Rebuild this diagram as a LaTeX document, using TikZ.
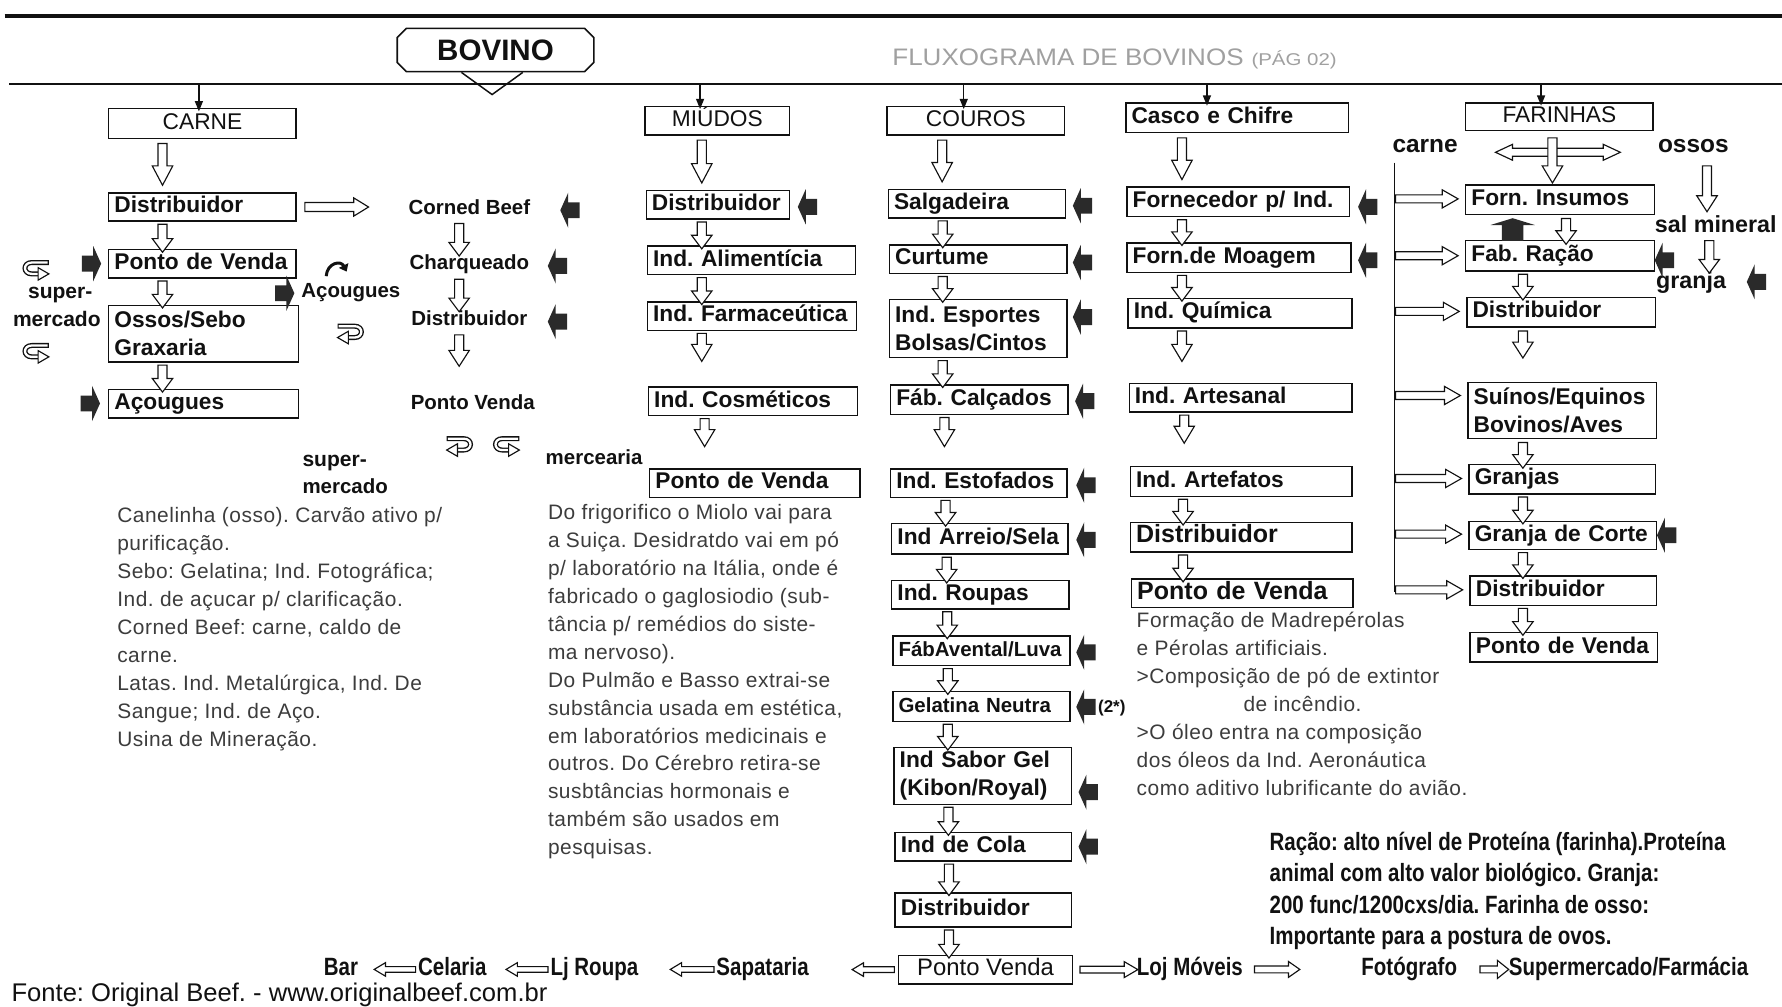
\documentclass[tikz,border=0pt]{standalone}
\usepackage{fontspec}
\setmainfont{Liberation Sans}
\newfontfamily\parafont[LetterSpace=2.5]{Liberation Sans}
\newfontfamily\narrowfont[FakeStretch=0.82]{Liberation Sans}
\usetikzlibrary{calc,shapes.misc,arrows.meta}
\definecolor{ink}{HTML}{111111}
\definecolor{txtgray}{HTML}{3C3C3C}
\definecolor{blk}{HTML}{2A2A2A}
\definecolor{headgray}{HTML}{A0A0A0}
\frenchspacing

\begin{document}
\begin{tikzpicture}[x=1pt, y=-1pt,
  bx/.style={draw=ink, line width=1.3pt, inner xsep=5pt, inner ysep=0pt, anchor=north west, align=left, text=ink, font=\bfseries\fontsize{20}{24.5}\selectfont},
  oneline/.style={text height=14.5pt, text depth=4.5pt},
  hdr/.style={draw=ink, line width=1.3pt, inner sep=0pt, anchor=north west, text=ink, font=\fontsize{20}{24}\selectfont, text height=14.5pt, text depth=4.5pt},
  lbl/.style={inner sep=0pt, text=ink, font=\bfseries\fontsize{18}{22}\selectfont, text height=13pt, text depth=4pt},
  para/.style={anchor=base west, inner sep=0pt, text=txtgray, font=\parafont\fontsize{18.4}{24}\selectfont},
  note/.style={anchor=base west, inner sep=0pt, text=ink, font=\narrowfont\bfseries\fontsize{22}{26}\selectfont},
  shop/.style={inner sep=0pt, text=ink, font=\narrowfont\bfseries\fontsize{22}{26}\selectfont, text height=15pt, text depth=4.5pt},
  hollow/.style={draw=ink, fill=white, line width=1pt, line join=miter},
  aw/.store in=\arW, aw=4pt,
  ah/.store in=\arH, ah=9pt,
  al/.store in=\arL, al=12pt,
  small/.style={aw=2.5pt, ah=6pt, al=10pt},
  arD/.style={to path={let \p1=(\tikztostart), \p2=(\tikztotarget) in
    (\x1-\arW,\y1) -- (\x1+\arW,\y1) -- (\x1+\arW,\y2+\arL) -- (\x1+\arH,\y2+\arL) -- (\x1,\y2)
    -- (\x1-\arH,\y2+\arL) -- (\x1-\arW,\y2+\arL) -- cycle}},
  arR/.style={to path={let \p1=(\tikztostart), \p2=(\tikztotarget) in
    (\x1,\y1+\arW) -- (\x2-\arL,\y1+\arW) -- (\x2-\arL,\y1+\arH) -- (\x2,\y1)
    -- (\x2-\arL,\y1-\arH) -- (\x2-\arL,\y1-\arW) -- (\x1,\y1-\arW) -- cycle}},
  arL/.style={to path={let \p1=(\tikztostart), \p2=(\tikztotarget) in
    (\x1,\y1+\arW) -- (\x2+\arL,\y1+\arW) -- (\x2+\arL,\y1+\arH) -- (\x2,\y1)
    -- (\x2+\arL,\y1-\arH) -- (\x2+\arL,\y1-\arW) -- (\x1,\y1-\arW) -- cycle}},
  arLR/.style={to path={let \p1=(\tikztostart), \p2=(\tikztotarget) in
    (\x1,\y1) -- (\x1+\arL,\y1+\arH) -- (\x1+\arL,\y1+\arW) -- (\x2-\arL,\y1+\arW) -- (\x2-\arL,\y1+\arH)
    -- (\x2,\y1) -- (\x2-\arL,\y1-\arH) -- (\x2-\arL,\y1-\arW) -- (\x1+\arL,\y1-\arW) -- (\x1+\arL,\y1-\arH) -- cycle}},
  thin/.style={draw=ink, line width=1.2pt, -{Triangle[length=9pt, width=7pt]}},
  blkL/.pic={\fill[blk] (0,0) -- (7,-15.5) -- (7,-7) -- (17,-7) -- (17,7) -- (7,7) -- (7,15.5) -- cycle;},
  blkU/.pic={\fill[blk] (0,0) -- (19.5,6) -- (9.5,6) -- (9.5,20) -- (-9.5,20) -- (-9.5,6) -- (-19.5,6) -- cycle;},
  uturn/.pic={
    \draw[ink, line width=4.4pt] (23,2) -- (8,2) .. controls (0,2) and (0,12) .. (8,12) -- (14,12);
    \draw[white, line width=2pt] (22,2) -- (8,2) .. controls (0,2) and (0,12) .. (8,12) -- (15,12);
    \draw[ink, fill=white, line width=1pt, line join=miter] (13.5,6.5) -- (23,12) -- (13.5,17.5) -- cycle;}
]
\useasboundingbox (0,0) rectangle (1568,886);
\fill[white] (0,0) rectangle (1568,886);

% ---------- header ----------
\draw[ink, line width=3pt] (4,14) -- (1568,14);
\draw[ink, line width=1.5pt] (8,74) -- (1568,74);
\node[draw=ink, line width=1.4pt, chamfered rectangle, chamfered rectangle xsep=4pt, chamfered rectangle ysep=4pt,
      minimum width=173pt, minimum height=38pt, inner sep=0pt, text=ink,
      font=\bfseries\fontsize{26}{26}\selectfont] (bovino) at (436,44) {BOVINO};
\draw[ink, line width=1.3pt, line join=miter] ([xshift=-30pt]bovino.south) -- ++(27,19.5) -- ++(27,-19.5);
\node[anchor=base west, inner sep=0pt, text=headgray, font=\fontsize{21}{21}\selectfont] (fluxo) at (785,58)
  {\scalebox{1.09}[1]{FLUXOGRAMA DE BOVINOS}};
\node[anchor=base west, inner sep=0pt, text=headgray, font=\fontsize{15}{15}\selectfont] (pag) at (1101,58)
  {\scalebox{1.2}[1]{(PÁG 02)}};

\coordinate (hc1) at (175,75);
\coordinate (hc2) at (616,75);
\coordinate (hc3) at (848,75);
\coordinate (hc4) at (1062,75);
\coordinate (hc5) at (1356,75);

% ---------- CARNE ----------
\node[hdr, minimum width=165pt, minimum height=26pt] (carne) at (95,95) {CARNE};
\node[bx, oneline, text width=155pt, minimum height=25pt] (cdist) at (95,169) {Distribuidor};
\node[bx, oneline, text width=155pt, minimum height=25pt] (cpv) at (95,219) {Ponto de Venda};
\node[bx, text width=157pt, minimum height=50pt] (cossos) at (95,268) {Ossos/Sebo\\Graxaria};
\node[bx, oneline, text width=157pt, minimum height=25pt] (cacoug) at (95,342) {Açougues};

\draw[thin] (hc1) -- ($(hc1 |- carne.north)+(0,3)$);
\draw[hollow, al=17pt] ([xshift=48pt,yshift=-4pt]carne.south west) to[arD] ([yshift=6pt]cdist.north);
\draw[hollow] ([xshift=48pt,yshift=-2pt]cdist.south west) to[arD] ([yshift=-3pt]cpv.north);
\draw[hollow] ([xshift=48pt,yshift=-2pt]cpv.south west) to[arD] ([yshift=-3pt]cossos.north);
\draw[hollow] ([xshift=48pt,yshift=-2pt]cossos.south west) to[arD] ([yshift=-3pt]cacoug.north);
\draw[hollow, aw=4pt, ah=8pt, al=13pt] ([xshift=7pt]cdist.east) to[arR] ([xshift=63pt]cdist.east);

\node[lbl, font=\bfseries\fontsize{18.5}{22}\selectfont] (sup1) at (53,258) {super-};
\node[lbl, font=\bfseries\fontsize{18.5}{22}\selectfont] (mer1) at (50,283) {mercado};
\node[lbl, anchor=west] (acl) at (265,257) {Açougues};
\pic at (20,229) {uturn};
\pic at (20,302) {uturn};
\pic[xscale=-1] at (320,285) {uturn};
\draw[ink, line width=2.6pt, -{Triangle[length=6pt, width=9pt]}] (287,243) .. controls (288,231) and (300,229) .. (305,239);
\pic[xscale=-1] at (89,232) {blkL};
\pic[xscale=-1] at (259,258) {blkL};
\pic[xscale=-1] at (88,355) {blkL};

% Corned beef chain
\node[lbl] (corned) at (413,184) {Corned Beef};
\node[lbl] (charq) at (413,233) {Charqueado};
\node[lbl] (cbdist) at (413,282) {Distribuidor};
\node[lbl] (cbpv) at (416,356) {Ponto Venda};
\draw[hollow] ([xshift=-9pt,yshift=-4pt]corned.south) to[arD] ([yshift=-1pt]charq.north);
\draw[hollow] ([xshift=-9pt,yshift=-4pt]charq.south) to[arD] ([yshift=-1pt]cbdist.north);
\draw[hollow, al=14pt] ([xshift=-9pt,yshift=-4pt]cbdist.south) to[arD] ([yshift=25pt]cbpv.north);
\pic at (493,185) {blkL};
\pic at (482,234) {blkL};
\pic at (482,283) {blkL};

\pic[xscale=-1] at (416,384) {uturn};
\pic at (434,384) {uturn};
\node[lbl, anchor=west, font=\bfseries\fontsize{18.5}{22}\selectfont] (sup2) at (266,406) {super-};
\node[lbl, anchor=west] (mer2) at (266,430) {mercado};
\node[lbl, anchor=west] (merc) at (480,404) {mercearia};

\foreach \t [count=\i] in {
  {Canelinha (osso). Carvão ativo p/},
  {purificação.},
  {Sebo: Gelatina; Ind. Fotográfica;},
  {Ind. de açucar p/ clarificação.},
  {Corned Beef: carne, caldo de},
  {carne.},
  {Latas. Ind. Metalúrgica, Ind. De},
  {Sangue; Ind. de Aço.},
  {Usina de Mineração.}}
  \node[para] (pa\i) at (103,{460+24.6*(\i-1)}) {\t};

% ---------- MIUDOS ----------
\node[hdr, minimum width=127pt, minimum height=25pt] (miudos) at (567,93) {MIÚDOS};
\node[bx, oneline, text width=116pt, minimum height=25pt] (mdist) at (568,167) {Distribuidor};
\node[bx, oneline, text width=173pt, minimum height=25pt] (malim) at (569,216) {Ind. Alimentícia};
\node[bx, oneline, text width=174pt, minimum height=25pt] (mfarm) at (569,265) {\mbox{Ind. Farmaceútica}};
\node[bx, oneline, text width=174pt, minimum height=25pt] (mcosm) at (570,340) {Ind. Cosméticos};
\node[bx, oneline, text width=175pt, minimum height=25pt] (mpv) at (571,412) {Ponto de Venda};
\draw[thin] (hc2) -- ($(hc2 |- miudos.north)+(0,3)$);
\draw[hollow, al=17pt] ([xshift=50.5pt,yshift=-4pt]miudos.south west) to[arD] ([yshift=6pt]mdist.north);
\draw[hollow] ([xshift=49.5pt,yshift=-2pt]mdist.south west) to[arD] ([yshift=-3pt]malim.north);
\draw[hollow] ([xshift=48.5pt,yshift=-2pt]malim.south west) to[arD] ([yshift=-3pt]mfarm.north);
\draw[hollow, al=15pt] ([xshift=48.5pt,yshift=-2pt]mfarm.south west) to[arD] ([yshift=22pt]mcosm.north);
\draw[hollow, al=15pt] ([xshift=50pt,yshift=-2pt]mcosm.south west) to[arD] ([yshift=19pt]mpv.north);
\pic at (702,182) {blkL};

\foreach \t [count=\i] in {
  {Do frigorifico o Miolo vai para},
  {a Suiça. Desidratdo vai em pó},
  {p/ laboratório na Itália, onde é},
  {fabricado o gaglosiodio (sub-},
  {tância p/ remédios do siste-},
  {ma nervoso).},
  {Do Pulmão e Basso extrai-se},
  {substância usada em estética,},
  {em laboratórios medicinais e},
  {outros. Do Cérebro retira-se},
  {susbtâncias hormonais e},
  {também são usados em},
  {pesquisas.}}
  \node[para] (pb\i) at (482,{457+24.6*(\i-1)}) {\t};

% ---------- COUROS ----------
\node[hdr, minimum width=156pt, minimum height=25pt] (couros) at (780,93) {COUROS};
\node[bx, oneline, text width=146pt, minimum height=25pt] (salg) at (781,166) {Salgadeira};
\node[bx, oneline, text width=146pt, minimum height=25pt] (curt) at (782,215) {Curtume};
\node[bx, text width=146pt, minimum height=51pt] (esp) at (782,263) {Ind. Esportes\\Bolsas/Cintos};
\node[bx, oneline, text width=146pt, minimum height=26pt] (calc) at (783,338) {Fáb. Calçados};
\node[bx, oneline, text width=145pt, minimum height=25pt] (estof) at (783,412) {Ind. Estofados};
\node[bx, oneline, text width=145pt, minimum height=27pt] (arreio) at (784,460) {Ind Arreio/Sela};
\node[bx, oneline, text width=146pt, minimum height=25pt] (roupas) at (784,510) {Ind. Roupas};
\node[bx, oneline, text width=146pt, minimum height=26pt, font=\bfseries\fontsize{18}{22}\selectfont] (avental) at (785,559) {FábAvental/Luva};
\node[bx, oneline, text width=146pt, minimum height=26pt, font=\bfseries\fontsize{18}{22}\selectfont] (gelat) at (785,608) {Gelatina Neutra};
\node[bx, text width=146pt, minimum height=50pt] (sabor) at (786,657) {Ind Sabor Gel\\(Kibon/Royal)};
\node[bx, oneline, text width=145pt, minimum height=25pt] (cola) at (787,732) {Ind de Cola};
\node[bx, oneline, text width=145pt, minimum height=30pt] (cdistb) at (787,785) {Distribuidor};
\node[hdr, minimum width=153pt, minimum height=25pt, font=\fontsize{21}{24}\selectfont] (cpvb) at (790,840) {Ponto Venda};
\draw[thin] (hc3) -- ($(hc3 |- couros.north)+(0,3)$);
\draw[hollow, al=17pt] ([xshift=49pt,yshift=-4pt]couros.south west) to[arD] ([yshift=6pt]salg.north);
\draw[hollow] ([xshift=48.5pt,yshift=-2pt]salg.south west) to[arD] ([yshift=-3pt]curt.north);
\draw[hollow] ([xshift=47.5pt,yshift=-2pt]curt.south west) to[arD] ([yshift=-3pt]esp.north);
\draw[hollow] ([xshift=47.5pt,yshift=-2pt]esp.south west) to[arD] ([yshift=-3pt]calc.north);
\draw[hollow, al=15pt] ([xshift=48pt,yshift=-2pt]calc.south west) to[arD] ([yshift=19pt]estof.north);
\draw[hollow] ([xshift=49pt,yshift=-2pt]estof.south west) to[arD] ([yshift=-3pt]arreio.north);
\draw[hollow] ([xshift=49pt,yshift=-2pt]arreio.south west) to[arD] ([yshift=-3pt]roupas.north);
\draw[hollow] ([xshift=49.5pt,yshift=-2pt]roupas.south west) to[arD] ([yshift=-3pt]avental.north);
\draw[hollow] ([xshift=49pt,yshift=-2pt]avental.south west) to[arD] ([yshift=-3pt]gelat.north);
\draw[hollow] ([xshift=49pt,yshift=-2pt]gelat.south west) to[arD] ([yshift=-3pt]sabor.north);
\draw[hollow] ([xshift=48.5pt,yshift=-2pt]sabor.south west) to[arD] ([yshift=-3pt]cola.north);
\draw[hollow] ([xshift=48pt,yshift=-2pt]cola.south west) to[arD] ([yshift=-3pt]cdistb.north);
\draw[hollow] ([xshift=48pt,yshift=-2pt]cdistb.south west) to[arD] ([yshift=-3pt]cpvb.north);
\pic at (944,181) {blkL};
\pic at (944,231) {blkL};
\pic at (944,279) {blkL};
\pic at (946,353) {blkL};
\pic at (947,427) {blkL};
\pic at (947,475) {blkL};
\pic at (947,574) {blkL};
\pic at (947,622) {blkL};
\pic at (949,697) {blkL};
\pic at (949,745) {blkL};
\node[lbl, anchor=west, font=\bfseries\fontsize{15}{18}\selectfont] (ref2) at (966,622) {(2*)};

% bottom row of outlets
\node[shop] (bar) at (300,853) {Bar};
\node[shop] (celaria) at (398,853) {Celaria};
\node[shop] (ljroupa) at (523,853) {Lj Roupa};
\node[shop] (sapataria) at (671,853) {Sapataria};
\node[shop] (lojmov) at (1047,853) {Loj Móveis};
\node[shop] (fotog) at (1240,853) {Fotógrafo};
\node[shop] (supfarm) at (1433,853) {Supermercado/Farmácia};
\draw[hollow, small] ([xshift=-3pt]cpvb.west) to[arL] ([xshift=38pt]sapataria.east);
\draw[hollow, small] ([xshift=-2pt]sapataria.west) to[arL] ([xshift=28pt]ljroupa.east);
\draw[hollow, small] ([xshift=-2pt]ljroupa.west) to[arL] ([xshift=17pt]celaria.east);
\draw[hollow, small] ([xshift=-2pt]celaria.west) to[arL] ([xshift=14pt]bar.east);
\draw[hollow, small, aw=3pt, ah=7pt, al=12pt] ([xshift=6pt]cpvb.east) to[arR] ([xshift=1pt]lojmov.west);
\draw[hollow, small, aw=3pt, ah=7pt] ([xshift=10pt]lojmov.east) to[arR] ([xshift=-54pt]fotog.west);
\draw[hollow, small, aw=3pt, ah=8pt] ([xshift=20pt]fotog.east) to[arR] (supfarm.west);

% ---------- CASCO E CHIFRE ----------
\node[bx, oneline, text width=186pt, minimum height=26pt] (casco) at (990,90) {Casco e Chifre};
\node[bx, oneline, text width=186pt, minimum height=26pt] (forn) at (991,164) {Fornecedor p/ Ind.};
\node[bx, oneline, text width=187pt, minimum height=26pt] (moag) at (991,213) {Forn.de Moagem};
\node[bx, oneline, text width=187pt, minimum height=26pt] (quim) at (992,262) {Ind. Química};
\node[bx, oneline, text width=186pt, minimum height=25pt] (artes) at (993,337) {Ind. Artesanal};
\node[bx, oneline, text width=185pt, minimum height=26pt] (artef) at (994,410) {Ind. Artefatos};
\node[bx, oneline, text width=185pt, minimum height=26pt, font=\bfseries\fontsize{22}{26}\selectfont] (cadist) at (994,459) {Distribuidor};
\node[bx, oneline, text width=185pt, minimum height=25pt, font=\bfseries\fontsize{22}{26}\selectfont] (capv) at (995,509) {Ponto de Venda};
\draw[thin] (hc4) -- ($(hc4 |- casco.north)+(0,3)$);
\draw[hollow, al=17pt] ([xshift=50pt,yshift=-4pt]casco.south west) to[arD] ([yshift=6pt]forn.north);
\draw[hollow] ([xshift=49pt,yshift=-2pt]forn.south west) to[arD] ([yshift=-3pt]moag.north);
\draw[hollow] ([xshift=49pt,yshift=-2pt]moag.south west) to[arD] ([yshift=-3pt]quim.north);
\draw[hollow, al=15pt] ([xshift=48pt,yshift=-2pt]quim.south west) to[arD] ([yshift=19pt]artes.north);
\draw[hollow, al=15pt] ([xshift=49pt,yshift=-2pt]artes.south west) to[arD] ([yshift=20pt]artef.north);
\draw[hollow] ([xshift=47pt,yshift=-2pt]artef.south west) to[arD] ([yshift=-3pt]cadist.north);
\draw[hollow] ([xshift=47pt,yshift=-2pt]cadist.south west) to[arD] ([yshift=-3pt]capv.north);
\pic at (1195,182) {blkL};
\pic at (1195,229) {blkL};

\foreach \t/\dx [count=\i] in {
  Formação de Madrepérolas/0,
  e Pérolas artificiais./0,
  >Composição de pó de extintor/0,
  de incêndio./94,
  >O óleo entra na composição/0,
  dos óleos da Ind. Aeronáutica/0,
  como aditivo lubrificante do avião./0}
  \node[para] (pc\i) at ({1000+\dx},{552+24.7*(\i-1)}) {\t};

% ---------- FARINHAS ----------
\node[hdr, minimum width=165pt, minimum height=24pt] (farinhas) at (1289,90) {FARINHAS};
\node[bx, oneline, text width=156pt, minimum height=26pt] (finsumos) at (1289,162) {Forn. Insumos};
\node[bx, oneline, text width=156pt, minimum height=27pt] (fracao) at (1289,211) {Fab. Ração};
\node[bx, oneline, text width=156pt, minimum height=26pt] (fdist) at (1290,261) {Distribuidor};
\node[bx, text width=156pt, minimum height=49pt] (fsuinos) at (1291,336) {Suínos/Equinos\\Bovinos/Aves};
\node[bx, oneline, text width=154pt, minimum height=26pt] (fgranjas) at (1292,408) {Granjas};
\node[bx, oneline, text width=155pt, minimum height=25pt] (fcorte) at (1292,458) {Granja de Corte};
\node[bx, oneline, text width=154pt, minimum height=26pt] (fdist2) at (1293,506) {Distribuidor};
\node[bx, oneline, text width=155pt, minimum height=26pt] (fpv) at (1293,556) {Ponto de Venda};
\draw[thin] (hc5) -- ($(hc5 |- farinhas.north)+(0,3)$);

\node[lbl, font=\bfseries\fontsize{21.5}{24}\selectfont, text height=15.5pt] (carnel) at (1254,128) {carne};
\node[lbl, font=\bfseries\fontsize{21.5}{24}\selectfont, text height=15.5pt] (ossosl) at (1490,128) {ossos};
\node[lbl, anchor=west, font=\bfseries\fontsize{20.5}{24}\selectfont, text height=15pt] (salmin) at (1456,199) {sal mineral};
\node[lbl, anchor=west, font=\bfseries\fontsize{20.5}{24}\selectfont, text height=15pt] (granja) at (1457,248) {granja};

\draw[hollow, aw=3.5pt, ah=7pt, al=15pt] ([xshift=33pt,yshift=-6pt]carnel.east) to[arLR] ([xshift=-33pt]ossosl.west);
\draw[hollow, al=15pt] ([xshift=77pt,yshift=-6pt]farinhas.south west) to[arD] ([yshift=1pt]finsumos.north);
\draw[hollow] ([xshift=89pt,yshift=-3pt]finsumos.south west) to[arD] ([yshift=-4pt]fracao.north);
\draw[hollow] ([xshift=51pt,yshift=-2pt]fracao.south west) to[arD] ([yshift=-3pt]fdist.north);
\draw[hollow, al=14pt] ([xshift=50pt,yshift=-3pt]fdist.south west) to[arD] ([yshift=21pt]fsuinos.north);
\draw[hollow] ([xshift=49pt,yshift=-3pt]fsuinos.south west) to[arD] ([yshift=-4pt]fgranjas.north);
\draw[hollow] ([xshift=48pt,yshift=-2pt]fgranjas.south west) to[arD] ([yshift=-3pt]fcorte.north);
\draw[hollow] ([xshift=48pt,yshift=-2pt]fcorte.south west) to[arD] ([yshift=-3pt]fdist2.north);
\draw[hollow] ([xshift=47pt,yshift=-2pt]fdist2.south west) to[arD] ([yshift=-3pt]fpv.north);
\draw[hollow, al=14pt] ([xshift=12pt,yshift=-8pt]ossosl.south) to[arD] ([yshift=3pt]salmin.north west);
\draw[hollow] ([xshift=48pt,yshift=-3pt]salmin.south west) to[arD] ([yshift=-2pt]granja.north west);
\pic at (1331,192) {blkU};
\pic at (1456,229) {blkL};
\pic at (1458,471) {blkL};
\pic at (1537,248) {blkL};

% meat line feeding the chain
\coordinate (vtop) at (1227,143);
\coordinate (vbot) at (1227,521);
\draw[ink, line width=1.5pt] (vtop) -- (vbot);
\foreach \yy/\bn in {175/finsumos, 225/fracao, 274/fdist, 348/fsuinos, 421/fgranjas, 470/fcorte, 519/fdist2}
  \draw[hollow, aw=3.5pt, ah=8pt, al=14pt] (1228,\yy) to[arR] ([xshift=-6pt]\bn.west);

\foreach \t [count=\i] in {
  {Ração: alto nível de Proteína (farinha).Proteína},
  {animal com alto valor biológico. Granja:},
  {200 func/1200cxs/dia. Farinha de osso:},
  {Importante para a postura de ovos.}}
  \node[note] (pd\i) at (1117,{748+27.7*(\i-1)}) {\t};

% ---------- source ----------
\node[anchor=base west, inner sep=0pt, text=ink, font=\fontsize{22.5}{24}\selectfont] (fonte) at (10,881)
  {Fonte: Original Beef. - www.originalbeef.com.br};
\end{tikzpicture}
\end{document}
